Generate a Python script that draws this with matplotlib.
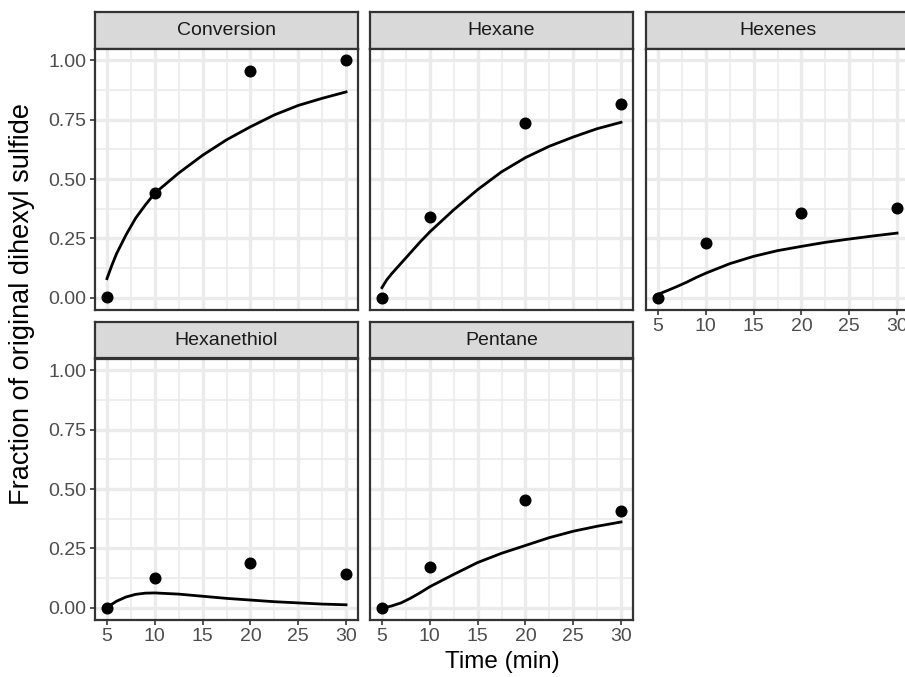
import numpy as np
import matplotlib
matplotlib.use("Agg")
import matplotlib.pyplot as plt

plt.rcParams['font.family'] = ['Liberation Sans', 'DejaVu Sans']

# observed points
time_obs = [5, 10, 20, 30]
panels = ["Conversion", "Hexane", "Hexenes", "Hexanethiol", "Pentane"]

conversion_obs = [0.003, 0.442, 0.955, 1.00]
hexane_obs = [0.0, 0.34, 0.736, 0.817]
hexenes_obs = [0.0, 0.23, 0.358, 0.378]
hexanethiol_obs = [0.0, 0.125, 0.187, 0.142]
pentane_obs = [0.0, 0.173, 0.452, 0.407]

# fitted curves
time_fit = [5, 5.5, 6, 7, 8, 9, 10, 12.5, 15, 17.5, 20, 22.5, 25, 27.5, 30]
conversion_fit = [0.08, 0.135, 0.185, 0.265, 0.335, 0.39, 0.44, 0.525, 0.60,
                  0.665, 0.72, 0.77, 0.81, 0.84, 0.867]
hexane_fit = [0.042, 0.075, 0.10, 0.145, 0.19, 0.235, 0.277, 0.37, 0.455,
              0.53, 0.59, 0.638, 0.677, 0.712, 0.739]
hexenes_fit = [0.014, 0.022, 0.03, 0.047, 0.065, 0.085, 0.103, 0.143, 0.174,
               0.198, 0.216, 0.233, 0.247, 0.26, 0.272]
hexanethiol_fit = [0.0, 0.014, 0.027, 0.045, 0.056, 0.061, 0.062, 0.057, 0.048,
                   0.039, 0.032, 0.025, 0.02, 0.015, 0.012]
pentane_fit = [0.0, 0.002, 0.007, 0.02, 0.04, 0.063, 0.088, 0.14, 0.19,
               0.229, 0.262, 0.295, 0.322, 0.343, 0.361]

obs = [conversion_obs, hexane_obs, hexenes_obs, hexanethiol_obs, pentane_obs]
fit = [conversion_fit, hexane_fit, hexenes_fit, hexanethiol_fit, pentane_fit]

x_ticks = [5, 10, 15, 20, 25, 30]
y_ticks = [0.0, 0.25, 0.5, 0.75, 1.0]
y_ticklabels = ["0.00", "0.25", "0.50", "0.75", "1.00"]

W, H = 905, 677
fig = plt.figure(figsize=(W / 100, H / 100), dpi=100)

def px_axes(l, t, r, b):
    return fig.add_axes([l / W, 1 - b / H, (r - l) / W, (b - t) / H])

col_left = [95, 370, 646]
panel_w = 263
strip_top = [12, 322]
strip_h = 36.5
panel_h = 261

border = "#333333"
grid_col = "#EBEBEB"
tick_col = "#4D4D4D"

for i, name in enumerate(panels):
    row, col = divmod(i, 3)
    l = col_left[col]
    r = l + panel_w
    st = strip_top[row]
    pt = st + strip_h
    pb = pt + panel_h

    # strip
    sax = px_axes(l, st, r, pt)
    sax.set_facecolor("#D9D9D9")
    sax.set_xticks([])
    sax.set_yticks([])
    for s in sax.spines.values():
        s.set_color(border)
        s.set_linewidth(1.6)
    sax.text(0.5, 0.5, name, ha="center", va="center", fontsize=14,
             color="#1A1A1A", transform=sax.transAxes)

    ax = px_axes(l, pt, r, pb)
    ax.set_xlim(3.75, 31.25)
    ax.set_ylim(-0.05, 1.05)
    ax.set_xticks(x_ticks)
    ax.set_xticks(np.arange(7.5, 30, 5), minor=True)
    ax.set_yticks(y_ticks)
    ax.set_yticks(np.arange(0.125, 1.0, 0.25), minor=True)
    ax.grid(True, which="major", color=grid_col, linewidth=2.4)
    ax.grid(True, which="minor", color=grid_col, linewidth=1.2)
    ax.set_axisbelow(True)
    for s in ax.spines.values():
        s.set_color(border)
        s.set_linewidth(1.6)
        s.set_zorder(5)

    ax.plot(time_fit, fit[i], color="black", linewidth=2.0, zorder=3)
    ax.scatter(time_obs, obs[i], s=75, color="black", zorder=4, linewidths=0)

    ax.tick_params(which="minor", length=0)
    ax.tick_params(which="major", length=3.5, width=1.2, color=border,
                   labelsize=14, labelcolor=tick_col, pad=2.5)

    if col == 0:
        ax.set_yticklabels(y_ticklabels)
    else:
        ax.tick_params(axis="y", which="major", length=0, labelleft=False)

    show_x = (row == 1) or (col == 2)
    if not show_x:
        ax.tick_params(axis="x", which="major", length=0, labelbottom=False)

fig.text(22 / W, 1 - 304 / H, "Fraction of original dihexyl sulfide", rotation=90,
         ha="center", va="center", fontsize=19.5, color="black")
fig.text(502 / W, 1 - 662 / H, "Time (min)", ha="center", va="center",
         fontsize=17.5, color="black")

fig.savefig("out.png", dpi=100)
